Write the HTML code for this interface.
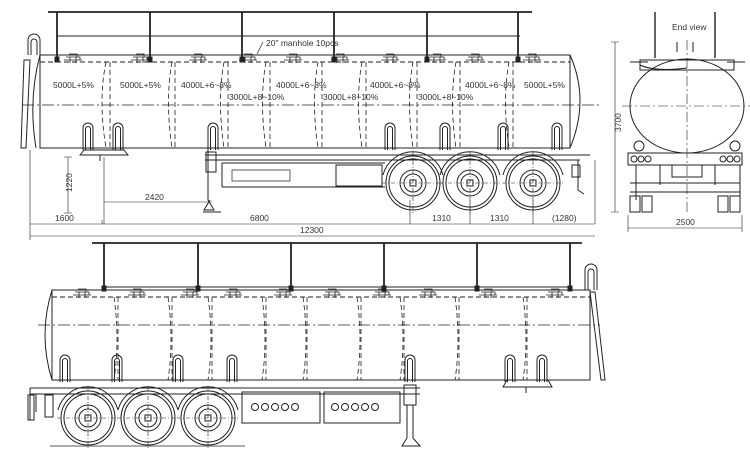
<!DOCTYPE html>
<html><head><meta charset="utf-8"><style>
html,body{margin:0;padding:0;background:#fff;width:750px;height:450px;overflow:hidden}
svg text{font-family:"Liberation Sans",sans-serif;font-size:8.5px;fill:#333;stroke:none}
</style></head><body>
<svg width="750" height="450" viewBox="0 0 750 450" xmlns="http://www.w3.org/2000/svg" fill="none" stroke="#222" stroke-width="1">
<defs>
<g id="loop"><path d="M-5 0 V-22 a5 5 0 0 1 10 0 V0 M-2.5 0 V-21 a2.5 2.5 0 0 1 5 0 V0"/></g>
<g id="wheel"><circle r="27"/><circle r="24"/><circle r="13"/><circle r="9"/><rect x="-3" y="-3" width="6" height="6"/><path d="M-31 0H31M0 -31V31" stroke-dasharray="4 2 1 2" stroke-width=".6"/><path d="M-30 -8 A31 31 0 0 1 30 -8" /></g>
<g id="mh"><path d="M-9 0h18M-7 -3h14v3M-4 -6h8v3M-3 -3v6M3 -3v6" stroke-width=".8"/></g>
</defs>

<!-- ===== TOP SIDE VIEW ===== -->
<path d="M48 12H532" stroke-width="1.8"/>
<path d="M57 36H520"/>
<g stroke-width="1.8"><path d="M57 12V60M150 12V60M242 12V60M334 12V60M427 12V60M518 12V60"/></g>
<g fill="#222"><rect x="55" y="57" width="4" height="5"/><rect x="148" y="57" width="4" height="5"/><rect x="240" y="57" width="4" height="5"/><rect x="332" y="57" width="4" height="5"/><rect x="425" y="57" width="4" height="5"/><rect x="516" y="57" width="4" height="5"/></g>
<g><use href="#mh" x="73" y="60"/><use href="#mh" x="140" y="60"/><use href="#mh" x="198" y="60"/><use href="#mh" x="248" y="60"/><use href="#mh" x="293" y="60"/><use href="#mh" x="340" y="60"/><use href="#mh" x="390" y="60"/><use href="#mh" x="437" y="60"/><use href="#mh" x="475" y="60"/><use href="#mh" x="532" y="60"/></g>
<path d="M40 62H570" stroke-dasharray="5 3"/>
<path d="M40 55H570V148H40Z"/>
<path d="M570 55 Q590 100 570 148"/>
<path d="M40 55 Q28 100 36 148"/>
<path d="M22 105H600" stroke-dasharray="12 3 2 3" stroke-width=".7"/>
<g stroke-dasharray="5 3" stroke-width=".8">
<path d="M106 62Q98 100 106 148M110 62V148M172 62Q165 100 172 148M175 62V148M224 62Q217 100 224 148M228 62V148M266 62Q259 100 266 148M270 62V148M318 62Q311 100 318 148M322 62V148M362 62Q355 100 362 148M366 62V148M413 62Q406 100 413 148M417 62V148M456 62Q449 100 456 148M460 62V148M509 62Q502 100 509 148M513 62V148"/></g>
<text x="53" y="88">5000L+5%</text><text x="120" y="88">5000L+5%</text><text x="181" y="88">4000L+6~8%</text>
<text x="229" y="100">3000L+8~10%</text><text x="276" y="88">4000L+6~8%</text><text x="323" y="100">3000L+8~10%</text>
<text x="370" y="88">4000L+6~8%</text><text x="418" y="100">3000L+8~10%</text><text x="465" y="88">4000L+6~8%</text><text x="524" y="88">5000L+5%</text>
<text x="266" y="46" font-size="8">20" manhole 10pcs</text><path d="M263 42l-6 12" stroke-width=".7"/>
<!-- left ladder -->
<path d="M28 55V40a5 5 0 0 1 12 0V55M31 55V42a3 3 0 0 1 6 0V55M24 60L21 148H26L30 60Z"/>
<g><use href="#loop" x="88" y="150"/><use href="#loop" x="118" y="150"/><use href="#loop" x="213" y="150"/><use href="#loop" x="390" y="150"/><use href="#loop" x="445" y="150"/><use href="#loop" x="503" y="150"/><use href="#loop" x="557" y="150"/></g>
<path d="M80 155L84 150H124L128 155Z M100 155v6"/>
<!-- chassis -->
<path d="M205 155H590M205 160H580M222 163H385M222 187H385M222 163V187M336 165H382V186H336Z"/>
<path d="M232 170H290V181H232Z" stroke-width=".7"/>
<path d="M208 150V200L214 210H204L210 200" />
<path d="M206 152h10v20h-10z M203 212h18"/>
<g><use href="#wheel" x="413" y="183"/><use href="#wheel" x="470" y="183"/><use href="#wheel" x="533" y="183"/></g>
<path d="M578 160V190l6 4M572 165h8v12h-8z"/>
<!-- dims top -->
<g stroke-width=".6">
<path d="M68 157V213M64 157h8M64 213h8"/>
<path d="M104 202H212M104 157V224"/>
<path d="M30 150V240M30 224H595M102 224v-4M410 224V200M470 224V200M533 224V200M595 224V160M30 236H595"/>
</g>
<text x="55" y="195" transform="rotate(-90 62 185)">1220</text>
<text x="145" y="200">2420</text>
<text x="55" y="221">1600</text><text x="250" y="221">6800</text><text x="432" y="221">1310</text><text x="490" y="221">1310</text><text x="552" y="221">(1280)</text>
<text x="300" y="233">12300</text>

<!-- ===== END VIEW ===== -->
<path d="M655 12V58M715 12V58" stroke-width="1.4"/>
<path d="M677 42V52M693 42V52"/>
<text x="672" y="30" font-size="6.5">End view</text>
<path d="M640 60H734V70H640Z M640 65Q655 72 687 68M630 62H648M727 62H745"/>
<ellipse cx="687" cy="106" rx="57" ry="47"/>
<path d="M622 106H752M687 40V215" stroke-dasharray="10 3 2 3" stroke-width=".6"/>
<circle cx="639" cy="146" r="5"/><circle cx="735" cy="146" r="5"/>
<path d="M628 153H742V165H628Z M636 165V200M740 165V200M660 165V185M715 165V185M672 165h30v12h-30z M630 183H740 M630 192H740"/>
<circle cx="634" cy="159" r="3"/><circle cx="641" cy="159" r="3"/><circle cx="648" cy="159" r="3"/><circle cx="723" cy="159" r="3"/><circle cx="730" cy="159" r="3"/><circle cx="737" cy="159" r="3"/>
<path d="M630 196h10v16h-10z M642 196h10v16h-10z M718 196h10v16h-10z M730 196h10v16h-10z"/>
<g stroke-width=".6"><path d="M615 42V212M611 42h8M611 212h8M628 228H742M628 215V232M742 215V232"/></g>
<text x="604" y="135" transform="rotate(-90 611 125)">3700</text>
<text x="676" y="225">2500</text>

<!-- ===== BOTTOM SIDE VIEW ===== -->
<path d="M92 243H582" stroke-width="1.8"/>
<path d="M104 287H572"/>
<g stroke-width="1.8"><path d="M104 243V290M198 243V290M291 243V290M384 243V290M477 243V290M570 243V290"/></g>
<g fill="#222"><rect x="102" y="286" width="4" height="5"/><rect x="196" y="286" width="4" height="5"/><rect x="289" y="286" width="4" height="5"/><rect x="382" y="286" width="4" height="5"/><rect x="475" y="286" width="4" height="5"/><rect x="568" y="286" width="4" height="5"/></g>
<g><use href="#mh" x="82" y="295"/><use href="#mh" x="137" y="295"/><use href="#mh" x="190" y="295"/><use href="#mh" x="233" y="295"/><use href="#mh" x="283" y="295"/><use href="#mh" x="332" y="295"/><use href="#mh" x="382" y="295"/><use href="#mh" x="428" y="295"/><use href="#mh" x="488" y="295"/><use href="#mh" x="555" y="295"/></g>
<path d="M52 297H590" stroke-dasharray="5 3"/>
<path d="M52 290H590V380H52Z"/>
<path d="M52 290Q38 335 52 380"/>
<path d="M38 325H600" stroke-dasharray="12 3 2 3" stroke-width=".7"/>
<g stroke-dasharray="5 3" stroke-width=".8">
<path d="M114 297Q120 340 114 380M118 297V380M168 297Q174 340 168 380M172 297V380M208 297Q214 340 208 380M212 297V380M262 297Q268 340 262 380M266 297V380M303 297Q309 340 303 380M307 297V380M357 297Q363 340 357 380M361 297V380M400 297Q406 340 400 380M404 297V380M455 297Q461 340 455 380M459 297V380M523 297Q529 340 523 380M527 297V380"/></g>
<g><use href="#loop" x="65" y="382"/><use href="#loop" x="117" y="382"/><use href="#loop" x="178" y="382"/><use href="#loop" x="232" y="382"/><use href="#loop" x="410" y="382"/><use href="#loop" x="510" y="382"/><use href="#loop" x="542" y="382"/></g>
<path d="M503 387L507 380H548L552 387Z M526 387v6"/>
<!-- right ladder -->
<path d="M585 290V270a5 5 0 0 1 12 0V290M588 290V272a3 3 0 0 1 6 0V290M595 292L605 380H601L590 292Z"/>
<!-- chassis -->
<path d="M30 388H420M30 394H420M30 388V420M36 394V412"/>
<path d="M28 395h6v25h-6z M45 395h8v22h-8z"/>
<path d="M242 392H320V423H242Z M324 392H400V423H324Z"/>
<g><circle cx="255" cy="407" r="3.5"/><circle cx="265" cy="407" r="3.5"/><circle cx="275" cy="407" r="3.5"/><circle cx="285" cy="407" r="3.5"/><circle cx="295" cy="407" r="3.5"/>
<circle cx="335" cy="407" r="3.5"/><circle cx="345" cy="407" r="3.5"/><circle cx="355" cy="407" r="3.5"/><circle cx="365" cy="407" r="3.5"/><circle cx="375" cy="407" r="3.5"/></g>
<g><use href="#wheel" x="88" y="418"/><use href="#wheel" x="148" y="418"/><use href="#wheel" x="208" y="418"/></g>
<path d="M50 446H245" stroke-width=".8"/>
<path d="M404 385h12v20h-12z M407 405V438L402 446H420L413 438V405"/>
</svg>
</body></html>
